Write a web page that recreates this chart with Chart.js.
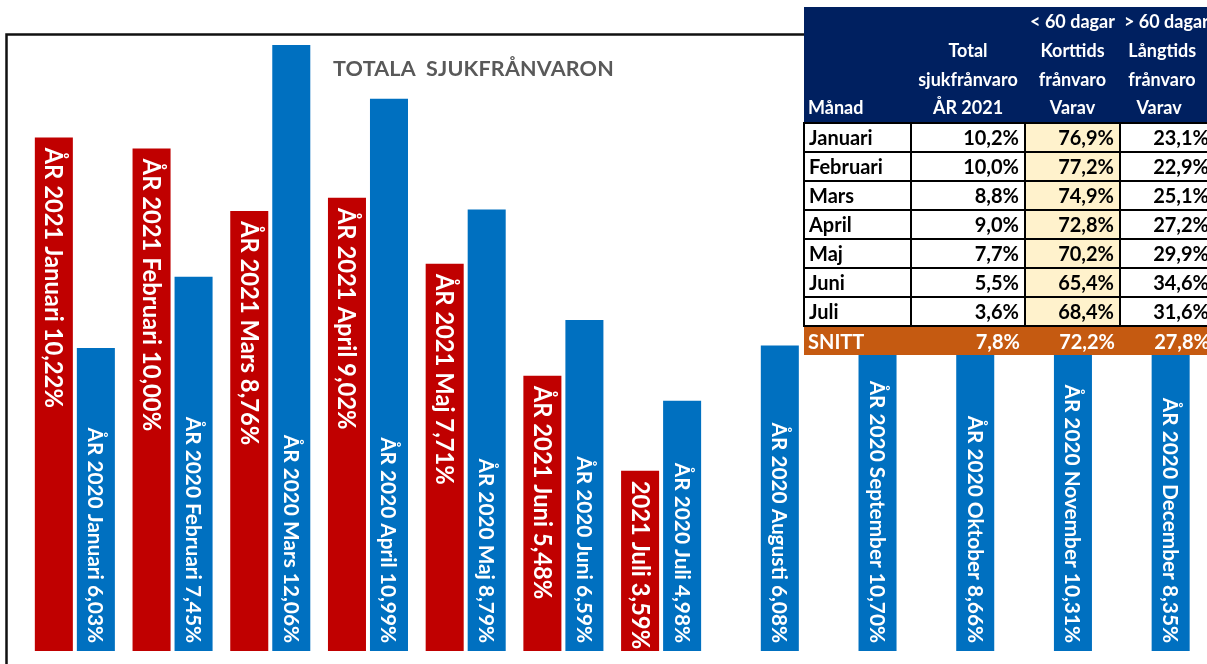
<!DOCTYPE html>
<html>
<head>
<meta charset="utf-8">
<script src="https://cdn.jsdelivr.net/npm/chart.js@4.4.1/dist/chart.umd.min.js"></script>
<style>
  html, body { margin:0; padding:0; background:#fff; }
  body { width:1207px; height:664px; overflow:hidden; position:relative; font-family:Lato, "Open Sans", sans-serif; }
  #wrap { position:absolute; left:0; top:0; width:1207px; height:664px; }
  #title { position:absolute; left:333px; top:55px; font-weight:bold; font-size:21.5px; color:#595959; white-space:pre; letter-spacing:0.2px; }
  #tbl { position:absolute; left:803px; top:7px; border-collapse:collapse; table-layout:fixed; font-weight:bold; width:420px; }
  #tbl th { background:#002060; color:#fff; font-size:18px; line-height:28.75px; vertical-align:bottom; text-align:center; padding:0; font-weight:bold; white-space:nowrap; }
  #tbl th.l { text-align:left; padding-left:4px; }
  #tbl td { border:2px solid #000; background:#fff; font-size:20px; height:27px; padding:0 5px 0 4px; text-align:right; color:#000; white-space:nowrap; line-height:27px; }
  #tbl td.m { text-align:left; }
  #tbl td.c { background:#FFF2CC; }
  #tbl tr.snitt td { background:#C55A11; color:#fff; border:none; height:28px; line-height:28px; border-top:2px solid #000; }
</style>
</head>
<body>
<div id="wrap"><canvas id="c" width="1207" height="664"></canvas></div>
<div id="title">TOTALA  SJUKFRÅNVARON</div>
<table id="tbl">
  <colgroup><col style="width:107px"><col style="width:114px"><col style="width:95px"><col style="width:104px"></colgroup>
  <thead>
    <tr>
      <th class="l">Månad</th>
      <th>Total<br>sjukfrånvaro<br>ÅR 2021</th>
      <th>&lt; 60 dagar<br>Korttids<br>frånvaro<br>Varav</th>
      <th style="text-align:left;padding-left:4px">&gt; 60 dagar<br>&nbsp;Långtids<br>&nbsp;frånvaro<br>&nbsp;&nbsp;&nbsp;Varav</th>
    </tr>
  </thead>
  <tbody id="tb"></tbody>
</table>
<script>
// ---- data ----
const months = ["Januari","Februari","Mars","April","Maj","Juni","Juli","Augusti","September","Oktober","November","December"];
const values2021 = [10.22, 10.00, 8.76, 9.02, 7.71, 5.48, 3.59];
const values2020 = [6.03, 7.45, 12.06, 10.99, 8.79, 6.59, 4.98, 6.08, 10.70, 8.66, 10.31, 8.35];

const tableMonths = ["Januari","Februari","Mars","April","Maj","Juni","Juli"];
const tableTotal = ["10,2%","10,0%","8,8%","9,0%","7,7%","5,5%","3,6%"];
const tableShort = ["76,9%","77,2%","74,9%","72,8%","70,2%","65,4%","68,4%"];
const tableLong  = ["23,1%","22,9%","25,1%","27,2%","29,9%","34,6%","31,6%"];
const snittRow = ["SNITT","7,8%","72,2%","27,8%"];

// ---- table ----
const tb = document.getElementById('tb');
tableMonths.forEach((m,i)=>{
  const tr = document.createElement('tr');
  tr.innerHTML = `<td class="m">${m}</td><td>${tableTotal[i]}</td><td class="c">${tableShort[i]}</td><td style="padding-right:14px">${tableLong[i]}</td>`;
  tb.appendChild(tr);
});
const str = document.createElement('tr'); str.className='snitt';
str.innerHTML = `<td class="m">${snittRow[0]}</td><td>${snittRow[1]}</td><td>${snittRow[2]}</td><td style="padding-right:14px">${snittRow[3]}</td>`;
tb.appendChild(str);

// ---- labels ----
const fmt = v => v.toFixed(2).replace('.', ',') + '%';
const labels2021 = values2021.map((v,i)=> (i===6 ? '2021 ' : 'ÅR 2021 ') + months[i] + ' ' + fmt(v));
const labels2020 = values2020.map((v,i)=> 'ÅR 2020 ' + months[i] + ' ' + fmt(v));

const frame = {
  id:'frame',
  beforeDatasetsDraw(chart){
    const ctx = chart.ctx;
    ctx.save();
    ctx.strokeStyle = '#111';
    ctx.lineWidth = 2.5;
    ctx.beginPath();
    ctx.moveTo(6.5, 664);
    ctx.lineTo(6.5, 34.5);
    ctx.lineTo(805, 34.5);
    ctx.stroke();
    ctx.restore();
  }
};

const barLabels = {
  id:'barLabels',
  afterDatasetsDraw(chart){
    const ctx = chart.ctx;
    ctx.save();
    ctx.fillStyle = '#fff';
    ctx.textBaseline = 'alphabetic';
    const m0 = chart.getDatasetMeta(0);
    const f0 = 23.8;
    ctx.font = `bold ${f0}px Lato`;
    m0.data.forEach((bar,i)=>{
      if (values2021[i] == null) return;
      ctx.save();
      ctx.translate(bar.x, bar.y + 10);
      ctx.rotate(Math.PI/2);
      ctx.textAlign = 'left';
      ctx.fillText(labels2021[i], 0, f0*0.72/2);
      ctx.restore();
    });
    const m1 = chart.getDatasetMeta(1);
    const f1 = 20.8;
    ctx.font = `bold ${f1}px Lato`;
    m1.data.forEach((bar,i)=>{
      ctx.save();
      ctx.translate(bar.x, bar.base - 8);
      ctx.rotate(Math.PI/2);
      ctx.textAlign = 'right';
      ctx.fillText(labels2020[i], 0, f1*0.72/2);
      ctx.restore();
    });
    ctx.restore();
  }
};

function build(){
  new Chart(document.getElementById('c'), {
    type:'bar',
    data:{
      labels: months,
      datasets:[
        { label:'ÅR 2021', data: values2021.concat([null,null,null,null,null]), backgroundColor:'#C00000', borderWidth:0 },
        { label:'ÅR 2020', data: values2020, backgroundColor:'#0070C0', borderWidth:0 }
      ]
    },
    options:{
      responsive:false,
      animation:false,
      devicePixelRatio:1,
      layout:{ padding:{ left:26, right:8.5, top:23, bottom:13 } },
      datasets:{ bar:{ categoryPercentage:0.86, barPercentage:0.905 } },
      scales:{
        x:{ display:false, offset:true },
        y:{ display:false, min:0, max:12.5 }
      },
      plugins:{ legend:{display:false}, tooltip:{enabled:false}, title:{display:false} }
    },
    plugins:[frame, barLabels]
  });
}
if (document.fonts && document.fonts.load) {
  Promise.all([document.fonts.load('bold 22px Lato'), document.fonts.load('bold 20px Lato')]).then(build, build);
} else build();
</script>
</body>
</html>
